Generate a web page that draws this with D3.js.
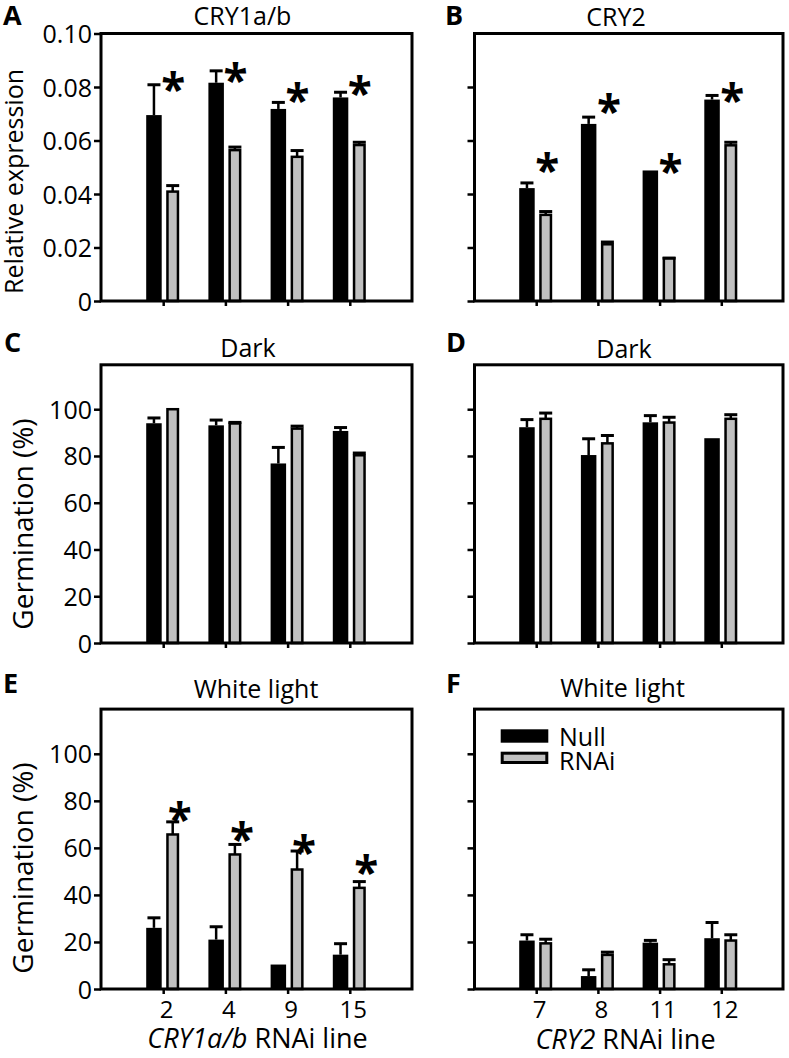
<!DOCTYPE html>
<html><head><meta charset="utf-8">
<script src="https://cdn.jsdelivr.net/npm/d3@7"></script>
<style>
body{margin:0;background:#fff;}
svg{display:block;}
text{font-family:"Open Sans",sans-serif;fill:#000;}
</style></head><body>
<svg id="chart" width="789" height="1058"></svg>
<script>
// ---------- data ----------
const cry1Lines = ["2","4","9","15"];
const cry2Lines = ["7","8","11","12"];
const seriesNames = ["Null","RNAi"];
const exprTicks = [0,0.02,0.04,0.06,0.08,0.10];
const exprTickLabels = ["0","0.02","0.04","0.06","0.08","0.10"];
const germTicks = [0,20,40,60,80,100];
const germTickLabels = ["0","20","40","60","80","100"];

// A: CRY1a/b expression
const aNull = [0.0695,0.0816,0.0718,0.0761];
const aNullErr = [0.0119,0.0050,0.0030,0.0025];
const aRNAi = [0.0409,0.0564,0.0539,0.0583];
const aRNAiErr = [0.0028,0.0017,0.0029,0.0016];
const aStars = [0.0819,0.0851,0.0776,0.0803];
// B: CRY2 expression
const bNull = [0.0422,0.0662,0.0488,0.0753];
const bNullErr = [0.0025,0.0031,0.0,0.0021];
const bRNAi = [0.0322,0.0212,0.0160,0.0582];
const bRNAiErr = [0.0018,0.0014,0.0006,0.0017];
const bStars = [0.0516,0.0738,0.0514,0.0777];
// C: CRY1a/b dark germination
const cNull = [94.0,93.1,76.8,90.7];
const cNullErr = [2.9,2.9,7.5,2.1];
const cRNAi = [100.0,93.9,91.7,80.3];
const cRNAiErr = [0,1.1,1.7,1.6];
// D: CRY2 dark germination
const dNull = [92.3,80.4,94.4,87.6];
const dNullErr = [3.9,7.6,3.5,0];
const dRNAi = [95.9,85.4,94.3,95.9];
const dRNAiErr = [3.1,4.0,2.9,2.4];
// E: CRY1a/b white light germination
const eNull = [26.0,21.0,10.4,14.6];
const eNullErr = [4.9,6.1,0,5.3];
const eRNAi = [65.7,57.2,50.8,43.0];
const eRNAiErr = [6.0,4.9,8.5,3.3];
const eStars = [75.4,66.9,61.3,52.8];
// F: CRY2 white light germination
const fNull = [20.6,5.5,19.7,21.6];
const fNullErr = [3.1,3.3,1.6,7.3];
const fRNAi = [19.4,14.5,10.5,20.6];
const fRNAiErr = [2.4,1.8,2.6,3.1];

// ---------- layout ----------
const cols = [{x0:101, x1:412}, {x0:474.5, x1:783}];
const rows = [{top:33.5, bottom:301}, {top:364.8, bottom:643}, {top:709.1, bottom:989}];
const GRAY = "#c0c0c0";

const panels = [
  {letter:"A", title:"CRY1a/b", col:0, row:0, yMax:0.1, ticks:exprTicks, tickLabels:exprTickLabels,
   nul:aNull, nulErr:aNullErr, rnai:aRNAi, rnaiErr:aRNAiErr, stars:aStars, starDx:10,
   titleX:242.5, titleY:24.5, letterX:3, letterY:25},
  {letter:"B", title:"CRY2", col:1, row:0, yMax:0.1, ticks:exprTicks.slice(0,5), tickLabels:null,
   nul:bNull, nulErr:bNullErr, rnai:bRNAi, rnaiErr:bRNAiErr, stars:bStars, starDx:11,
   titleX:616, titleY:26, letterX:445, letterY:25},
  {letter:"C", title:"Dark", col:0, row:1, yMax:119, ticks:germTicks, tickLabels:germTickLabels,
   nul:cNull, nulErr:cNullErr, rnai:cRNAi, rnaiErr:cRNAiErr, stars:null,
   titleX:248, titleY:356.5, letterX:4, letterY:352},
  {letter:"D", title:"Dark", col:1, row:1, yMax:119, ticks:germTicks, tickLabels:null,
   nul:dNull, nulErr:dNullErr, rnai:dRNAi, rnaiErr:dRNAiErr, stars:null,
   titleX:624, titleY:358, letterX:446, letterY:352},
  {letter:"E", title:"White light", col:0, row:2, yMax:119, ticks:germTicks, tickLabels:germTickLabels,
   nul:eNull, nulErr:eNullErr, rnai:eRNAi, rnaiErr:eRNAiErr, stars:eStars, starDx:16.5,
   titleX:256, titleY:698, letterX:3, letterY:693, xLabels:cry1Lines},
  {letter:"F", title:"White light", col:1, row:2, yMax:119, ticks:germTicks, tickLabels:null,
   nul:fNull, nulErr:fNullErr, rnai:fRNAi, rnaiErr:fRNAiErr, stars:null,
   titleX:622.5, titleY:697, letterX:446, letterY:693, xLabels:cry2Lines, legend:true}
];

const svg = d3.select("#chart");

panels.forEach(p => {
  const c = cols[p.col], r = rows[p.row];
  const x = d3.scaleLinear().domain([0,5]).range([c.x0, c.x1]);
  const y = d3.scaleLinear().domain([0,p.yMax]).range([r.bottom, r.top]);
  const g = svg.append("g");
  const idx = [0,1,2,3];

  // bars: Null (black)
  g.selectAll(".bn").data(idx).enter().append("rect")
    .attr("x", i => x(i+1) - 17).attr("width", 15.5)
    .attr("y", i => y(p.nul[i])).attr("height", i => y(0) - y(p.nul[i]))
    .attr("fill", "#000");
  // bars: RNAi (gray with black outline)
  g.selectAll(".br").data(idx).enter().append("rect")
    .attr("x", i => x(i+1) + 4.25).attr("width", 10.5)
    .attr("y", i => y(p.rnai[i])).attr("height", i => y(0) - y(p.rnai[i]))
    .attr("fill", GRAY).attr("stroke", "#000").attr("stroke-width", 2.5);

  // error bars
  const errs = [];
  idx.forEach(i => {
    errs.push({cx: x(i+1) - 9.25, v: p.nul[i], e: p.nulErr[i]});
    errs.push({cx: x(i+1) + 9.5, v: p.rnai[i], e: p.rnaiErr[i]});
  });
  const eg = g.selectAll(".err").data(errs.filter(d => d.e > 0)).enter().append("g");
  eg.append("line").attr("x1", d => d.cx).attr("x2", d => d.cx)
    .attr("y1", d => y(d.v)).attr("y2", d => y(d.v + d.e) + 1)
    .attr("stroke", "#000").attr("stroke-width", 2.5);
  eg.append("line").attr("x1", d => d.cx - 6.5).attr("x2", d => d.cx + 6.5)
    .attr("y1", d => y(d.v + d.e) + 1.5).attr("y2", d => y(d.v + d.e) + 1.5)
    .attr("stroke", "#000").attr("stroke-width", 3);

  // frame
  g.append("rect").attr("x", c.x0).attr("y", r.top)
    .attr("width", c.x1 - c.x0).attr("height", r.bottom - r.top)
    .attr("fill", "none").attr("stroke", "#000").attr("stroke-width", 3);

  // y axis
  const yAxis = d3.axisLeft(y).tickValues(p.ticks).tickSize(7).tickSizeOuter(0)
    .tickFormat((d,i) => p.tickLabels ? p.tickLabels[i] : "");
  const ya = g.append("g").attr("transform", `translate(${c.x0},0)`).call(yAxis);
  ya.select(".domain").remove();
  ya.selectAll("line").attr("stroke", "#000").attr("stroke-width", 2.5);
  ya.selectAll("text").attr("font-family", "'Open Sans', sans-serif")
    .attr("font-size", 25).attr("fill", "#000").attr("x", -9).attr("dy", "0.36em");

  // x axis
  const xAxis = d3.axisBottom(x).tickValues([1,2,3,4]).tickSize(5).tickSizeOuter(0)
    .tickFormat((d,i) => p.xLabels ? p.xLabels[i] : "");
  const xa = g.append("g").attr("transform", `translate(0,${r.bottom})`).call(xAxis);
  xa.select(".domain").remove();
  xa.selectAll("line").attr("stroke", "#000").attr("stroke-width", 2.5);
  xa.selectAll("text").attr("font-family", "'Open Sans', sans-serif")
    .attr("font-size", 24).attr("fill", "#000").attr("dx", 3).attr("y", 12).attr("dy", "0.71em");

  // stars
  if (p.stars) {
    g.selectAll(".star").data(idx).enter().append("text")
      .attr("x", i => x(i+1) + p.starDx)
      .attr("y", i => y(p.stars[i]) + 23)
      .attr("text-anchor", "middle")
      .attr("font-family", "'DejaVu Sans', sans-serif").attr("font-weight", "bold")
      .attr("font-size", 44).text("*");
  }

  // title
  g.append("text").attr("x", p.titleX).attr("y", p.titleY).attr("text-anchor", "middle")
    .attr("font-size", 25).text(p.title);
  // panel letter
  g.append("text").attr("x", p.letterX).attr("y", p.letterY)
    .attr("font-family", "'Liberation Sans', Arial, sans-serif").attr("font-weight", "bold")
    .attr("font-size", 27).text(p.letter);

  // legend
  if (p.legend) {
    g.append("rect").attr("x", 500.7).attr("y", 729.3).attr("width", 47.6).attr("height", 13.4).attr("fill", "#000");
    g.append("rect").attr("x", 502.2).attr("y", 753.2).attr("width", 44.6).attr("height", 9.3)
      .attr("fill", GRAY).attr("stroke", "#000").attr("stroke-width", 3);
    g.append("text").attr("x", 559).attr("y", 746).attr("font-size", 25).text(seriesNames[0]);
    g.append("text").attr("x", 559).attr("y", 770).attr("font-size", 25).text(seriesNames[1]);
  }
});

// axis titles
svg.append("text").attr("transform", "translate(23,181.5) rotate(-90)")
  .attr("text-anchor", "middle").attr("font-size", 25).text("Relative expression");
svg.append("text").attr("transform", "translate(33,524) rotate(-90)")
  .attr("text-anchor", "middle").attr("font-size", 28).text("Germination (%)");
svg.append("text").attr("transform", "translate(33,868) rotate(-90)")
  .attr("text-anchor", "middle").attr("font-size", 28).text("Germination (%)");

const t1 = svg.append("text").attr("x", 257.5).attr("y", 1048).attr("text-anchor", "middle").attr("font-size", 27);
t1.append("tspan").attr("font-style", "italic").text("CRY1a/b");
t1.append("tspan").text(" RNAi line");
const t2 = svg.append("text").attr("x", 625.5).attr("y", 1049).attr("text-anchor", "middle").attr("font-size", 27);
t2.append("tspan").attr("font-style", "italic").text("CRY2");
t2.append("tspan").text(" RNAi line");
</script>
</body></html>
